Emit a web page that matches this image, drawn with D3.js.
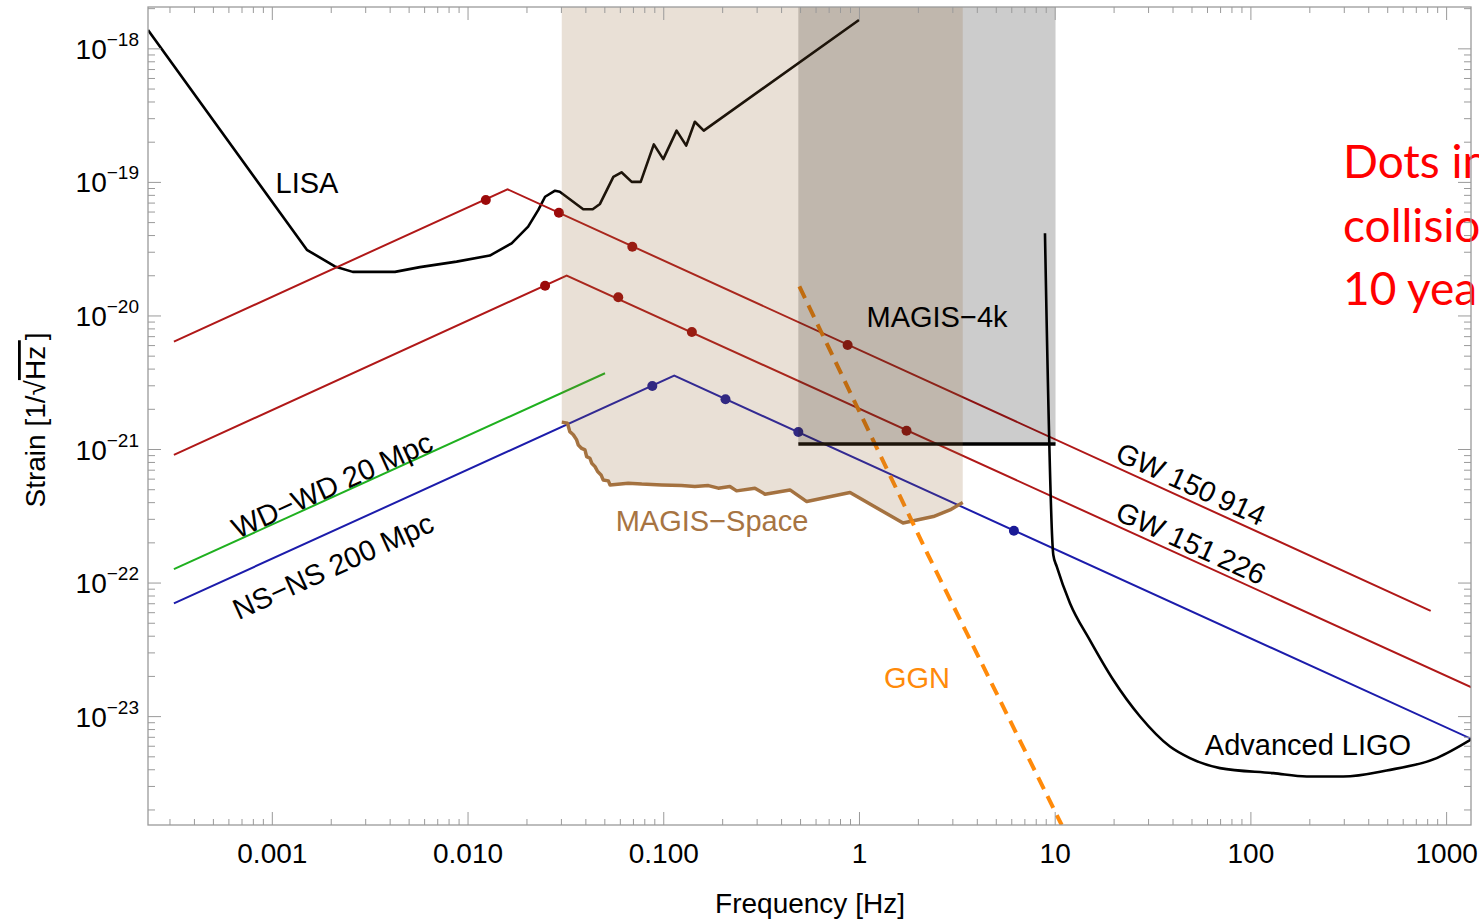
<!DOCTYPE html>
<html><head><meta charset="utf-8">
<script src="https://cdn.jsdelivr.net/npm/d3@7"></script>
<style>
body{margin:0;background:#fff;overflow:hidden}
svg{display:block}
text{font-family:"Liberation Sans",Arial,Helvetica,sans-serif}
</style></head><body>
<svg id="chart" width="1479" height="920"></svg>
<script>
// ---------- axis domains & ticks ----------
const xDomain = [2.33e-4, 1340];
const yDomain = [1.53e-24, 2.04e-18];
const xTickValues = [0.001, 0.01, 0.1, 1, 10, 100, 1000];
const xTickLabels = ["0.001", "0.010", "0.100", "1", "10", "100", "1000"];
const yTickExponents = [-23, -22, -21, -20, -19, -18];

// ---------- LISA ----------
const lisaFreq = [2.33e-4, 1.51e-3, 2.10e-3, 2.59e-3, 4.26e-3, 5.71e-3, 8.79e-3, 1.30e-2, 1.68e-2, 2.04e-2, 2.30e-2, 2.49e-2, 2.80e-2, 2.96e-2, 3.90e-2, 4.36e-2, 4.75e-2, 5.56e-2, 6.12e-2, 6.90e-2, 7.67e-2, 8.95e-2, 0.100, 0.117, 0.131, 0.145, 0.161, 1.0];
const lisaStrain = [1.37e-18, 3.10e-20, 2.33e-20, 2.12e-20, 2.12e-20, 2.30e-20, 2.53e-20, 2.81e-20, 3.47e-20, 4.62e-20, 6.17e-20, 7.74e-20, 8.59e-20, 8.45e-20, 6.24e-20, 6.24e-20, 6.84e-20, 1.09e-19, 1.18e-19, 1.00e-19, 1.00e-19, 1.91e-19, 1.48e-19, 2.42e-19, 1.87e-19, 2.82e-19, 2.42e-19, 1.63e-18];

// ---------- Advanced LIGO ----------
const ligoFreq = [8.92, 9.84, 10.24, 11.97, 15.1, 19.9, 27.3, 38.8, 49.1, 69.9, 131, 194, 298, 497, 895, 1352];
const ligoStrain = [4.12e-20, 1.61e-22, 1.32e-22, 7.01e-23, 3.72e-23, 1.87e-23, 9.93e-24, 5.92e-24, 4.85e-24, 4.08e-24, 3.74e-24, 3.53e-24, 3.53e-24, 3.92e-24, 4.85e-24, 6.73e-24];

// ---------- sources ----------
const gw150914Freq = [3.16e-4, 1.60e-2, 834];
const gw150914Strain = [6.37e-21, 8.81e-20, 6.14e-23];
const gw150914DotFreq = [1.24e-2, 2.93e-2, 6.95e-2, 0.875];
const gw150914DotStrain = [7.33e-20, 5.87e-20, 3.27e-20, 6.01e-21];

const gw151226Freq = [3.16e-4, 3.21e-2, 1352];
const gw151226Strain = [9.04e-22, 1.99e-20, 1.64e-23];
const gw151226DotFreq = [2.49e-2, 5.89e-2, 0.140, 1.75];
const gw151226DotStrain = [1.67e-20, 1.37e-20, 7.52e-21, 1.37e-21];

const nsnsFreq = [3.16e-4, 0.1138, 1352];
const nsnsStrain = [6.98e-23, 3.54e-21, 6.73e-24];
const nsnsDotFreq = [8.79e-2, 0.208, 0.490, 6.19];
const nsnsDotStrain = [2.96e-21, 2.36e-21, 1.34e-21, 2.44e-22];

const wdwdFreq = [3.16e-4, 5.04e-2];
const wdwdStrain = [1.26e-22, 3.69e-21];

// ---------- GGN ----------
const ggnFreq = [0.496, 2.26, 10.86];
const ggnStrain = [1.65e-20, 1.60e-22, 1.53e-24];

// ---------- MAGIS ----------
const magis4kFreq = [0.490, 10.1];
const magis4kStrain = [1.09e-21, 1.09e-21];
const magisSpaceFreq = [0.0303, 0.0324, 0.0333, 0.0347, 0.0361, 0.0368, 0.0383, 0.0398, 0.0406, 0.0422, 0.0431, 0.0448, 0.0462, 0.0481, 0.0493, 0.0524, 0.0535, 0.0662, 0.0776, 0.0982, 0.124, 0.145, 0.170, 0.191, 0.219, 0.237, 0.294, 0.331, 0.444, 0.541, 0.900, 1.68, 2.40, 2.92, 3.39];
const magisSpaceStrain = [1.59e-21, 1.56e-21, 1.35e-21, 1.28e-21, 1.17e-21, 1.07e-21, 1.01e-21, 9.84e-22, 8.77e-22, 8.53e-22, 7.83e-22, 7.38e-22, 6.78e-22, 6.40e-22, 5.87e-22, 5.77e-22, 5.38e-22, 5.55e-22, 5.46e-22, 5.38e-22, 5.32e-22, 5.24e-22, 5.32e-22, 5.09e-22, 5.24e-22, 4.86e-22, 5.09e-22, 4.59e-22, 4.94e-22, 4.04e-22, 4.72e-22, 2.79e-22, 3.12e-22, 3.50e-22, 3.97e-22];

const noteLines = ["Dots indicate", "collision in", "10 years"];

// ---------- layout ----------
const W = 1479, H = 920;
const plot = {left: 148, right: 1471, top: 7, bottom: 825};
const x = d3.scaleLog().domain(xDomain).range([plot.left, plot.right]);
const y = d3.scaleLog().domain(yDomain).range([plot.bottom, plot.top]);
const zip = (a, b) => a.map((v, i) => [v, b[i]]);
const line = d3.line().x(d => x(d[0])).y(d => y(d[1]));

const svg = d3.select("#chart");
svg.append("rect").attr("width", W).attr("height", H).attr("fill", "#fff");
svg.append("defs").append("clipPath").attr("id", "clip")
  .append("rect").attr("x", plot.left).attr("y", plot.top)
  .attr("width", plot.right - plot.left).attr("height", plot.bottom - plot.top);

// red annotation (behind frame)
const note = svg.append("text").attr("x", 1343).attr("y", 178)
  .attr("fill", "#ff0000").style("font-family", "Lato, 'Open Sans', sans-serif").attr("font-size", 46);
noteLines.forEach((t, i) => note.append("tspan").attr("x", 1343).attr("dy", i === 0 ? 0 : 63.5).text(t));

const data = svg.append("g").attr("clip-path", "url(#clip)");

const RED = "#b01818", DOTRED = "#9c0a0a", BLUE = "#1c1cab", DOTBLUE = "#1a1a96", GREEN = "#1fb01f", BROWN = "#a77442", ORANGE = "#ff8a0a";

data.append("path").attr("d", line(zip(lisaFreq, lisaStrain))).attr("fill", "none").attr("stroke", "#000").attr("stroke-width", 2.6).attr("stroke-linejoin", "round");
data.append("path").attr("d", line(zip(gw150914Freq, gw150914Strain))).attr("fill", "none").attr("stroke", RED).attr("stroke-width", 2);
data.append("path").attr("d", line(zip(gw151226Freq, gw151226Strain))).attr("fill", "none").attr("stroke", RED).attr("stroke-width", 2);
data.append("path").attr("d", line(zip(nsnsFreq, nsnsStrain))).attr("fill", "none").attr("stroke", BLUE).attr("stroke-width", 2);
data.append("path").attr("d", line(zip(wdwdFreq, wdwdStrain))).attr("fill", "none").attr("stroke", GREEN).attr("stroke-width", 2);
data.append("path").attr("d", d3.line().x(d => x(d[0])).y(d => y(d[1])).curve(d3.curveMonotoneX)(zip(ligoFreq, ligoStrain)))
  .attr("fill", "none").attr("stroke", "#000").attr("stroke-width", 2.6);
data.append("path").attr("d", line(zip(magisSpaceFreq, magisSpaceStrain))).attr("fill", "none").attr("stroke", BROWN).attr("stroke-width", 3.5).attr("stroke-linejoin", "round");
data.append("path").attr("d", line(zip(ggnFreq, ggnStrain))).attr("fill", "none").attr("stroke", ORANGE).attr("stroke-width", 4).attr("stroke-dasharray", "13,8");
data.append("path").attr("d", line(zip(magis4kFreq, magis4kStrain))).attr("fill", "none").attr("stroke", "#000").attr("stroke-width", 3.5);

function dots(fs, hs, col) {
  data.selectAll(null).data(zip(fs, hs)).enter().append("circle")
    .attr("cx", d => x(d[0])).attr("cy", d => y(d[1])).attr("r", 5).attr("fill", col);
}
dots(gw150914DotFreq, gw150914DotStrain, DOTRED);
dots(gw151226DotFreq, gw151226DotStrain, DOTRED);
dots(nsnsDotFreq, nsnsDotStrain, DOTBLUE);

// shaded regions (translucent, over the curves)
data.append("rect").attr("x", x(magis4kFreq[0])).attr("y", plot.top)
  .attr("width", x(magis4kFreq[1]) - x(magis4kFreq[0]))
  .attr("height", y(magis4kStrain[0]) - plot.top)
  .attr("fill", "rgba(0,0,0,0.2)");
const tanPoly = [[magisSpaceFreq[0], yDomain[1]]].concat(zip(magisSpaceFreq, magisSpaceStrain), [[magisSpaceFreq[magisSpaceFreq.length - 1], yDomain[1]]]);
data.append("path").attr("d", line(tanPoly) + "Z").attr("fill", "rgba(145,100,50,0.2)");

// ---------- axes ----------
const minorX = [], minorY = [];
for (let e = -4; e <= 3; e++) for (let k = 2; k <= 9; k++) { const v = k * Math.pow(10, e); if (v > xDomain[0] && v < xDomain[1]) minorX.push(v); }
for (let e = -24; e <= -18; e++) for (let k = 2; k <= 9; k++) { const v = k * Math.pow(10, e); if (v > yDomain[0] && v < yDomain[1]) minorY.push(v); }
const yTickValues = yTickExponents.map(e => Math.pow(10, e));
const AX = "#9a9a9a";
function ax(gen, tx, ty) {
  const g = svg.append("g").attr("transform", `translate(${tx},${ty})`).style("color", AX).call(gen);
  g.select(".domain").remove();
  return g;
}
ax(d3.axisBottom(x).tickValues(minorX).tickSize(-6).tickFormat(""), 0, plot.bottom);
ax(d3.axisTop(x).tickValues(minorX).tickSize(-6).tickFormat(""), 0, plot.top);
ax(d3.axisTop(x).tickValues(xTickValues).tickSize(-13).tickFormat(""), 0, plot.top);
ax(d3.axisLeft(y).tickValues(minorY).tickSize(-7).tickFormat(""), plot.left, 0);
ax(d3.axisRight(y).tickValues(minorY).tickSize(-7).tickFormat(""), plot.right, 0);
ax(d3.axisRight(y).tickValues(yTickValues).tickSize(-13).tickFormat(""), plot.right, 0);
const gx = ax(d3.axisBottom(x).tickValues(xTickValues).tickSizeInner(-13).tickSizeOuter(0).tickPadding(18)
  .tickFormat((d, i) => xTickLabels[i]), 0, plot.bottom);
gx.selectAll("text").attr("fill", "#000").attr("font-size", 28).style("font-family", "'Liberation Sans',Arial,sans-serif");
const gy = ax(d3.axisLeft(y).tickValues(yTickValues).tickSizeInner(-13).tickSizeOuter(0).tickPadding(9).tickFormat(() => ""), plot.left, 0);
gy.selectAll(".tick text").each(function(d, i) {
  const t = d3.select(this).attr("fill", "#000").attr("font-size", 28).attr("dy", null).attr("y", 10)
    .style("font-family", "'Liberation Sans',Arial,sans-serif");
  t.append("tspan").text("10");
  t.append("tspan").attr("dy", -13).attr("font-size", 19).text("\u2212" + Math.abs(yTickExponents[i]));
});
svg.append("rect").attr("x", plot.left).attr("y", plot.top).attr("width", plot.right - plot.left)
  .attr("height", plot.bottom - plot.top).attr("fill", "none").attr("stroke", AX).attr("stroke-width", 1.3);

// axis titles
svg.append("text").attr("x", 810).attr("y", 913).attr("text-anchor", "middle").attr("font-size", 28).text("Frequency [Hz]");
const yt = svg.append("text").attr("transform", "translate(45,420) rotate(-90)").attr("text-anchor", "middle").attr("font-size", 28);
yt.append("tspan").text("Strain [1/\u221A");
yt.append("tspan").style("text-decoration", "overline").text("Hz\u2009");
yt.append("tspan").text("]");

// ---------- labels ----------
const ang = Math.atan2((2 / 3) * (y(1e-21) - y(1e-20)), x(10) - x(1)) * 180 / Math.PI;
function label(txt, cx, cy, rot, col, size) {
  svg.append("text").attr("transform", `translate(${cx},${cy}) rotate(${rot})`).attr("text-anchor", "middle")
    .attr("dy", "0.35em").attr("font-size", size || 29).attr("fill", col || "#000").text(txt);
}
label("LISA", 307, 183, 0);
label("MAGIS\u22124k", 937, 317, 0);
label("MAGIS\u2212Space", 712, 521, 0, BROWN);
label("GGN", 917, 678, 0, ORANGE);
label("Advanced LIGO", 1308, 745, 0);
label("GW 150\u2009914", 1191, 484, ang);
label("GW 151\u2009226", 1191, 543, ang);
label("WD\u2212WD 20 Mpc", 332, 485, -ang);
label("NS\u2212NS 200 Mpc", 333, 566, -ang);
</script>
</body></html>
